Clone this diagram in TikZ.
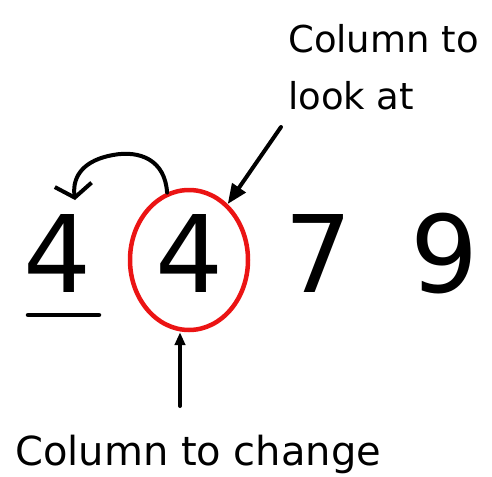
\documentclass[tikz,border=0pt]{standalone}
\usepackage{fontspec}
\setmainfont{DejaVu Sans}
\usepackage{tikz}
\usetikzlibrary{arrows.meta,positioning,shapes.geometric}
\definecolor{ringR}{RGB}{235,20,20}

\begin{document}
\begin{tikzpicture}[x=1pt,y=-1pt]
  \tikzset{dig/.style={inner sep=0pt,anchor=base,font=\fontsize{107}{107}\selectfont},
    lbl/.style={inner sep=0pt,align=left,font=\fontsize{37}{57}\selectfont},
    arr/.style={-{Stealth[length=#1,width=0.8*#1,inset=0pt]},line width=4pt,line cap=round}}
  \useasboundingbox (0,0) rectangle (492,476);
  \node[dig] (d1) at (58,292) {4};
  \node[dig] (d2) at (190,292) {4};
  \node[dig] (d3) at (319,292) {7};
  \node[dig] (d4) at (445,292) {9};
  \node[draw=ringR,line width=4.5pt,ellipse,minimum width=118pt,minimum height=140pt,inner sep=0pt] (ring) at (189,260) {};
  \draw[line width=4.5pt,line cap=round] (28,315) -- (99,315);
  \node[lbl,anchor=north west] (look) at (288,24) {Column to\\look at};
  \node[lbl,anchor=base west,font=\fontsize{40}{48}\selectfont] (chg) at (15,465) {Column to change};
  \coordinate (lk) at (281,127);
  \coordinate (cb) at (180,406);
  \draw[arr=7mm] (lk) -- (ring);
  \draw[arr=4.5mm] (cb) -- (cb |- ring.south);
  % hop from the circled column back to the one on its left
  \draw[-{Straight Barb[length=4.5mm,width=13mm]},line width=4pt,line cap=round]
    (ring.108) .. controls (165,160) and (140,150) .. (113,155) .. controls (85,160) and (72,175) .. (75,200);
\end{tikzpicture}
\end{document}
